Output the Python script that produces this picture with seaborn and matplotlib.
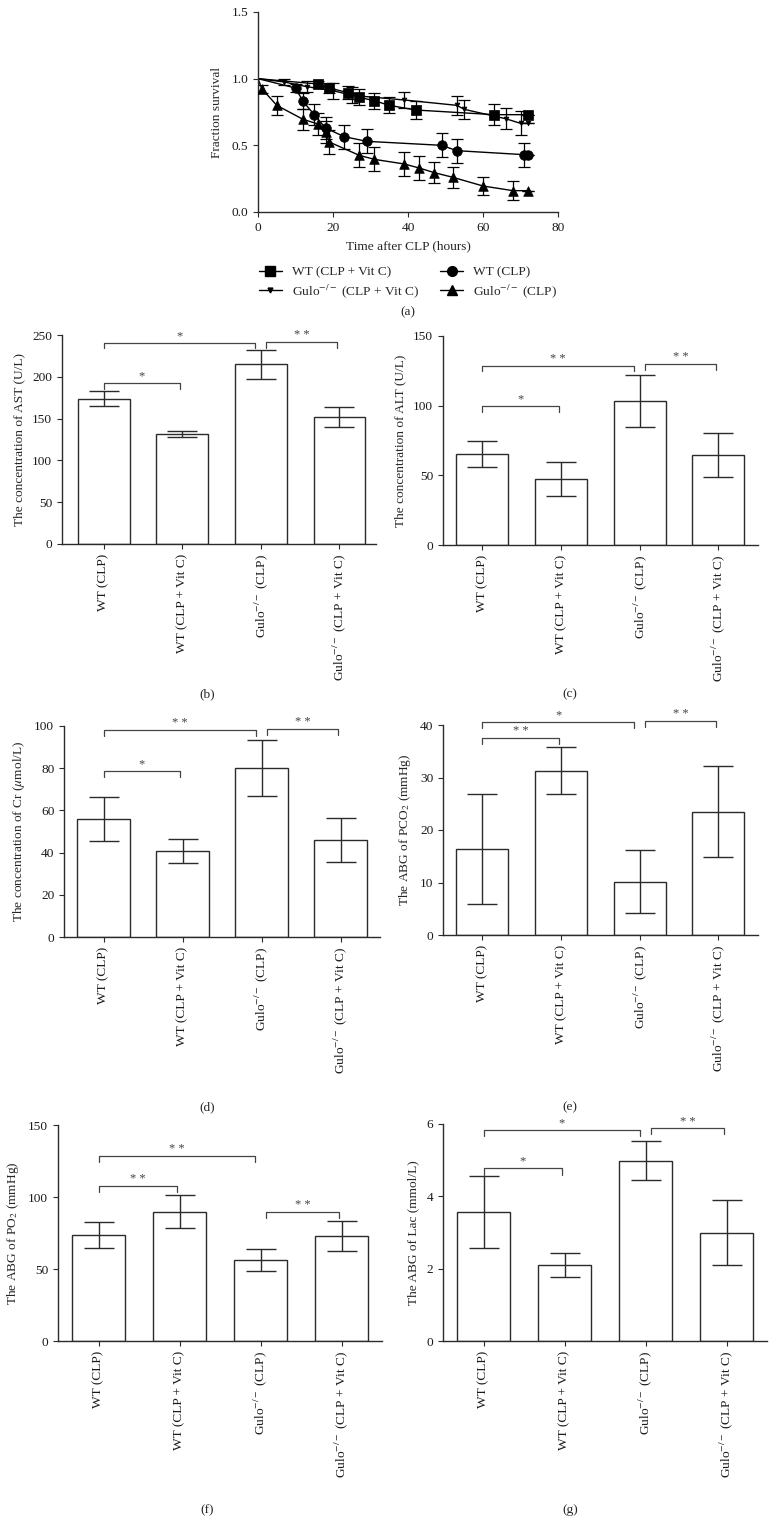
import matplotlib
matplotlib.use("Agg")
import matplotlib.pyplot as plt
from matplotlib.lines import Line2D
import numpy as np
import pandas as pd
import seaborn as sns

# ---- panel (a): survival ----
t_wt_vitc = [0, 16, 19, 24, 27, 31, 35, 42, 63, 72]
s_wt_vitc = [1.0, 0.96, 0.93, 0.895, 0.86, 0.835, 0.80, 0.765, 0.73, 0.73]
e_wt_vitc = [0, 0.02, 0.04, 0.05, 0.06, 0.06, 0.06, 0.07, 0.08, 0]

t_gulo_vitc = [0, 7, 13, 20, 25, 39, 53, 55, 66, 70, 72]
s_gulo_vitc = [1.0, 0.975, 0.94, 0.91, 0.875, 0.84, 0.80, 0.77, 0.70, 0.665, 0.665]
e_gulo_vitc = [0, 0.02, 0.04, 0.06, 0.06, 0.06, 0.07, 0.07, 0.08, 0.09, 0]

t_wt_clp = [0, 10, 12, 15, 18, 23, 29, 49, 53, 71, 72]
s_wt_clp = [1.0, 0.93, 0.83, 0.73, 0.63, 0.565, 0.53, 0.50, 0.46, 0.43, 0.43]
e_wt_clp = [0, 0.03, 0.06, 0.08, 0.08, 0.09, 0.09, 0.09, 0.09, 0.09, 0]

t_gulo_clp = [0, 1, 5, 12, 16, 18, 19, 27, 31, 39, 43, 47, 52, 60, 68, 72]
s_gulo_clp = [1.0, 0.925, 0.80, 0.695, 0.66, 0.60, 0.525, 0.425, 0.395, 0.36,
              0.33, 0.295, 0.26, 0.195, 0.16, 0.16]
e_gulo_clp = [0, 0.03, 0.07, 0.08, 0.08, 0.08, 0.09, 0.09, 0.09, 0.09,
              0.09, 0.08, 0.08, 0.07, 0.07, 0]

# ---- bar panels ----
groups = ["WT (CLP)", "WT (CLP + Vit C)",
          "Gulo$^{-/-}$ (CLP)", "Gulo$^{-/-}$ (CLP + Vit C)"]

ast_mean = [174, 132, 215, 152]
ast_err = [8.5, 3.5, 17.5, 12]
ast_sig = [(0, 1, 192, "*"), (0, 2, 241, "*"), (2, 3, 242, "* *")]

alt_mean = [65.6, 47.5, 103.5, 64.4]
alt_err = [9.4, 12.4, 18.7, 15.7]
alt_sig = [(0, 1, 99.7, "*"), (0, 2, 128.8, "* *"), (2, 3, 130, "* *")]

cr_mean = [55.9, 40.6, 80, 45.9]
cr_err = [10.4, 5.7, 13.3, 10.4]
cr_sig = [(0, 1, 78.5, "*"), (0, 2, 98.1, "* *"), (2, 3, 98.7, "* *")]

pco2_mean = [16.4, 31.3, 10.1, 23.5]
pco2_err = [10.4, 4.5, 6.0, 8.6]
pco2_sig = [(0, 1, 37.5, "* *"), (0, 2, 40.6, "*"), (2, 3, 40.8, "* *")]

po2_mean = [73.6, 89.8, 56, 72.9]
po2_err = [8.7, 11.4, 7.6, 10.4]
po2_sig = [(0, 1, 107.9, "* *"), (0, 2, 128.7, "* *"), (2, 3, 89.6, "* *")]

lac_mean = [3.56, 2.10, 4.98, 2.99]
lac_err = [0.99, 0.32, 0.54, 0.90]
lac_sig = [(0, 1, 4.77, "*"), (0, 2, 5.83, "*"), (2, 3, 5.88, "* *")]

W, H = 776, 1520
INK = "#2b2b2b"
FS = 9.6

sns.set_style("ticks")
plt.rcParams["font.family"] = ["Liberation Serif", "DejaVu Serif"]
plt.rcParams["mathtext.fontset"] = "stix"
plt.rcParams["font.size"] = FS
plt.rcParams["axes.edgecolor"] = INK
plt.rcParams["axes.linewidth"] = 1.0
plt.rcParams["xtick.color"] = INK
plt.rcParams["ytick.color"] = INK
plt.rcParams["xtick.labelcolor"] = "#1a1a1a"
plt.rcParams["ytick.labelcolor"] = "#1a1a1a"
plt.rcParams["xtick.major.size"] = 3.5
plt.rcParams["ytick.major.size"] = 3.5

fig = plt.figure(figsize=(W / 100, H / 100), dpi=100)


def add_ax(left, right, top, bottom):
    return fig.add_axes([left / W, 1 - bottom / H, (right - left) / W, (bottom - top) / H])


def fig_text(x, y, s):
    fig.text(x / W, 1 - y / H, s, ha="center", va="center", fontsize=FS)


# ---------------- (a) ----------------
ax = add_ax(258, 558, 12, 212)
series = [
    (t_wt_vitc, s_wt_vitc, e_wt_vitc, "s", 44),
    (t_gulo_vitc, s_gulo_vitc, e_gulo_vitc, "v", 12),
    (t_wt_clp, s_wt_clp, e_wt_clp, "o", 48),
    (t_gulo_clp, s_gulo_clp, e_gulo_clp, "^", 48),
]
for t, s, e, m, ms in series:
    sns.lineplot(x=t, y=s, estimator=None, sort=False, color="black", lw=1.0, ax=ax)
    ax.errorbar(t[1:], s[1:], yerr=e[1:], fmt="none", ecolor="black",
                elinewidth=0.9, capsize=4, capthick=0.9)
    sns.scatterplot(x=t[1:], y=s[1:], marker=m, s=ms, color="black",
                    edgecolor="black", linewidth=0.5, ax=ax, zorder=5)
ax.set_xlim(0, 80)
ax.set_ylim(0, 1.5)
ax.set_xticks([0, 20, 40, 60, 80])
ax.set_yticks([0, 0.5, 1.0, 1.5])
ax.set_yticklabels(["0.0", "0.5", "1.0", "1.5"])
ax.set_ylabel("Fraction survival", fontsize=FS, labelpad=6)
ax.set_xlabel("Time after CLP (hours)", fontsize=FS, labelpad=5)
sns.despine(ax=ax)

handles = [
    Line2D([], [], color="black", lw=1, marker="s", ms=6.5),
    Line2D([], [], color="black", lw=1, marker="v", ms=3.5),
    Line2D([], [], color="black", lw=1, marker="o", ms=7),
    Line2D([], [], color="black", lw=1, marker="^", ms=7),
]
labels = ["WT (CLP + Vit C)", "Gulo$^{-/-}$ (CLP + Vit C)",
          "WT (CLP)", "Gulo$^{-/-}$ (CLP)"]
fig.legend(handles, labels, ncol=2, frameon=False, fontsize=FS,
           loc="upper left", bbox_to_anchor=(247 / W, 1 - 254 / H),
           handlelength=1.7, handletextpad=0.75, columnspacing=1.6,
           labelspacing=0.3)
fig_text(408, 312, "(a)")


# ---------------- bar panels ----------------
def bar_panel(left, top, bottom, spacing, xmin, means, errs, sig,
              ymax, yticks, ylabel):
    right = left + 4 * spacing
    ax = add_ax(left, right, top, bottom)
    df = pd.DataFrame({"group": groups, "value": means})
    sns.barplot(data=df, x="group", y="value", color="white", edgecolor=INK,
                linewidth=1.0, width=0.66, errorbar=None, ax=ax)
    for patch in ax.patches:
        patch.set_facecolor("white")
    ax.errorbar(np.arange(len(means)), means, yerr=errs, fmt="none",
                ecolor=INK, elinewidth=1.0, capsize=11, capthick=1.0, zorder=4)
    ax.set_xlim(xmin, xmin + 4)
    ax.set_ylim(0, ymax)
    ax.set_yticks(yticks)
    ax.set_xticks(range(4))
    ax.set_xticklabels(groups, rotation=90, fontsize=FS)
    ax.set_xlabel("")
    ax.set_ylabel(ylabel, fontsize=FS, labelpad=5)
    sns.despine(ax=ax)
    leg = 0.028 * ymax
    for i, j, y, lab in sig:
        x1 = i + (0.07 if i == 2 else 0.0)
        x2 = j - (0.07 if j == 2 else 0.03)
        ax.plot([x1, x1, x2, x2], [y - leg, y, y, y - leg], color="#444444",
                lw=0.9, clip_on=False)
        ax.annotate(lab, xy=((x1 + x2) / 2, y), xytext=(0, 0.5),
                    textcoords="offset points", ha="center", va="bottom",
                    fontsize=9, color="#444444", annotation_clip=False)
    return ax


bar_panel(62, 335, 544, 78.6, -0.53, ast_mean, ast_err, ast_sig,
          250, [0, 50, 100, 150, 200, 250], "The concentration of AST (U/L)")
bar_panel(443, 336, 545, 78.7, -0.5, alt_mean, alt_err, alt_sig,
          150, [0, 50, 100, 150], "The concentration of ALT (U/L)")
bar_panel(64, 726, 937, 79, -0.5, cr_mean, cr_err, cr_sig,
          100, [0, 20, 40, 60, 80, 100], "The concentration of Cr ($\\mu$mol/L)")
bar_panel(443, 725, 935, 78.7, -0.5, pco2_mean, pco2_err, pco2_sig,
          40, [0, 10, 20, 30, 40], "The ABG of PCO$_2$ (mmHg)")
bar_panel(58, 1125, 1341, 81, -0.5, po2_mean, po2_err, po2_sig,
          150, [0, 50, 100, 150], "The ABG of PO$_2$ (mmHg)")
bar_panel(443, 1124, 1341, 81, -0.5, lac_mean, lac_err, lac_sig,
          6, [0, 2, 4, 6], "The ABG of Lac (mmol/L)")

fig_text(207, 694, "(b)")
fig_text(570, 694, "(c)")
fig_text(207, 1107, "(d)")
fig_text(570, 1107, "(e)")
fig_text(207, 1510, "(f)")
fig_text(570, 1510, "(g)")

fig.savefig("out.png", dpi=100)
